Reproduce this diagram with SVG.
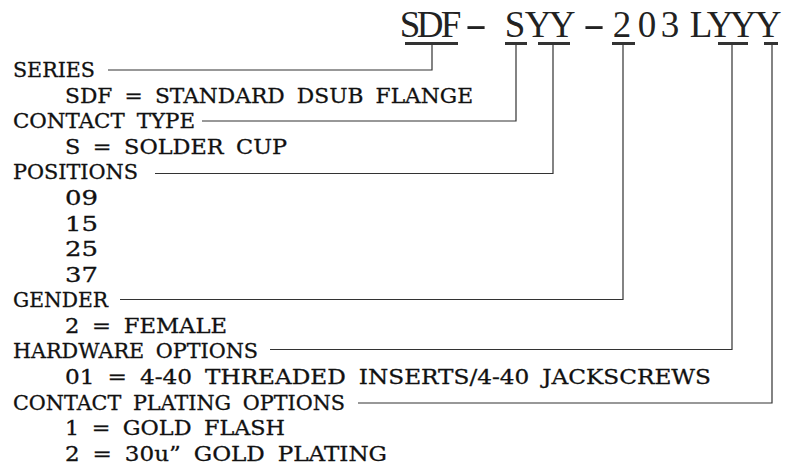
<svg xmlns="http://www.w3.org/2000/svg" width="787" height="466" viewBox="0 0 787 466">
<style>
.t{font-family:"DejaVu Serif","Liberation Serif",serif;font-size:20.5px;fill:#111;stroke:#111;stroke-width:0.3;word-spacing:5px}
.title{font-family:"Liberation Serif","DejaVu Serif",serif;font-size:37px;fill:#222;text-anchor:middle}
.ul{stroke:#333;stroke-width:3;fill:none}
.c{stroke:#333;stroke-width:1.2;fill:none}
</style>
<rect width="787" height="466" fill="#fff"/>
<g id="title">
<text class="title" y="37"><tspan x="410 430 451">SDF</tspan><tspan x="476" textLength="22" lengthAdjust="spacingAndGlyphs">-</tspan><tspan x="515 538 562">SYY</tspan><tspan x="594" textLength="22" lengthAdjust="spacingAndGlyphs">-</tspan><tspan x="622 647 670 701 720 743 768">203LYYY</tspan></text>
<line class="ul" x1="405" y1="43.5" x2="458" y2="43.5"/>
<line class="ul" x1="505" y1="43.5" x2="527" y2="43.5"/>
<line class="ul" x1="538" y1="43.5" x2="570" y2="43.5"/>
<line class="ul" x1="612" y1="43.5" x2="635" y2="43.5"/>
<line class="ul" x1="718" y1="43.5" x2="748" y2="43.5"/>
<line class="ul" x1="764" y1="43.5" x2="778" y2="43.5"/>
</g>
<g id="series"><text class="t" x="13" y="77" textLength="82" lengthAdjust="spacingAndGlyphs">SERIES</text>
<text class="t" x="65" y="102.6" textLength="408" lengthAdjust="spacingAndGlyphs">SDF = STANDARD DSUB FLANGE</text></g>
<g id="contact-type"><text class="t" x="13" y="128.2" textLength="182" lengthAdjust="spacingAndGlyphs">CONTACT TYPE</text>
<text class="t" x="65" y="153.8" textLength="222" lengthAdjust="spacingAndGlyphs">S = SOLDER CUP</text></g>
<g id="positions"><text class="t" x="13" y="179.4" textLength="125" lengthAdjust="spacingAndGlyphs">POSITIONS</text>
<text class="t" x="65" y="205" textLength="33" lengthAdjust="spacingAndGlyphs">09</text>
<text class="t" x="65" y="230.6" textLength="33" lengthAdjust="spacingAndGlyphs">15</text>
<text class="t" x="65" y="256.2" textLength="33" lengthAdjust="spacingAndGlyphs">25</text>
<text class="t" x="65" y="281.8" textLength="33" lengthAdjust="spacingAndGlyphs">37</text></g>
<g id="gender"><text class="t" x="13" y="307" textLength="95" lengthAdjust="spacingAndGlyphs">GENDER</text>
<text class="t" x="65" y="333" textLength="162" lengthAdjust="spacingAndGlyphs">2 = FEMALE</text></g>
<g id="hardware"><text class="t" x="13" y="358.4" textLength="245" lengthAdjust="spacingAndGlyphs">HARDWARE OPTIONS</text>
<text class="t" x="65" y="384" textLength="646" lengthAdjust="spacingAndGlyphs">01 = 4-40 THREADED INSERTS/4-40 JACKSCREWS</text></g>
<g id="plating"><text class="t" x="13" y="409.6" textLength="332" lengthAdjust="spacingAndGlyphs">CONTACT PLATING OPTIONS</text>
<text class="t" x="65" y="435.2" textLength="220" lengthAdjust="spacingAndGlyphs">1 = GOLD FLASH</text>
<text class="t" x="65" y="460.8" textLength="322" lengthAdjust="spacingAndGlyphs">2 = 30u” GOLD PLATING</text></g>
<g id="connectors">
<polyline class="c" points="108,70 432,70 432,45"/>
<polyline class="c" points="202,121 516,121 516,45"/>
<polyline class="c" points="155,173.5 553,173.5 553,45"/>
<polyline class="c" points="120,299.5 623,299.5 623,45"/>
<polyline class="c" points="270,349.5 732,349.5 732,45"/>
<polyline class="c" points="358,403 772,403 772,45"/>
</g>
</svg>
